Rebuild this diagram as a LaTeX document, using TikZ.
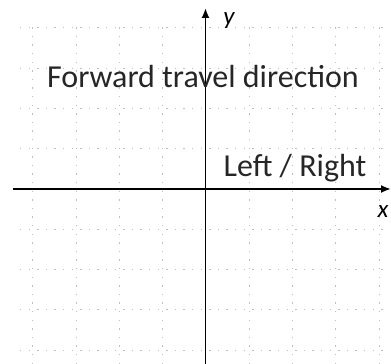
\documentclass[tikz,border=0pt]{standalone}
\usepackage{fontspec}
\setmainfont{Carlito}
\usetikzlibrary{arrows.meta}
\begin{document}
\begin{tikzpicture}[x=1pt,y=1pt,
  gridline/.style={draw=black!25,line width=0.9pt,dash pattern=on 1.4pt off 7.2pt},
  axis/.style={draw=black,line width=1.9pt,-{Latex[length=10pt,width=8pt]}},
  lbl/.style={text=black!85,inner sep=0pt,anchor=base,font=\fontsize{32}{32}\selectfont},
  axlbl/.style={text=black,inner sep=0pt,font=\fontsize{25}{25}\selectfont\itshape}]
\useasboundingbox (0,0) rectangle (391,364);
% grid (pixel coords: y_tikz = 364 - y_px)
\foreach \k in {-4,-3,-2,-1,1,2,3,4}{
  \path[gridline] ({206+43.3*\k},0) -- ({206+43.3*\k},342);
  \path[gridline] (20,{175-40.3*\k}) -- (387,{175-40.3*\k});
}
\coordinate (xs) at (13,175);
\coordinate (xe) at (391,175);
\coordinate (ys) at (205.5,0);
\coordinate (ye) at (205.5,356);
\draw[axis] (xs) -- (xe);
\draw[axis] (ys) -- (ye);
\node[axlbl] (ylab) at (229,343) {y};
\node[axlbl] (xlab) at (383,152) {x};
\node[lbl] (fwd) at (203,276) {Forward travel direction};
\node[lbl] (lr) at (295,187) {Left / Right};
\end{tikzpicture}
\end{document}
